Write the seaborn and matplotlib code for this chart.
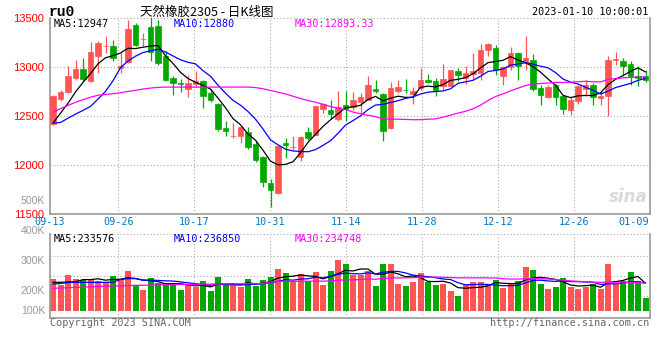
import numpy as np
import pandas as pd
import matplotlib
matplotlib.use("Agg")
import matplotlib.pyplot as plt
import matplotlib.transforms as mtransforms
import seaborn as sns

# ---------------- data ----------------
symbol = "ru0"
title = "天然橡胶2305 - 日K线图"
timestamp = "2023-01-10 10:00:01"
date_labels = ["09-13", "09-26", "10-17", "10-31", "11-14", "11-28", "12-12", "12-26", "01-09"]
price_ticks = [13500, 13000, 12500, 12000, 11500]
vol_labels = ["500K", "400K", "300K", "200K", "100K"]
vol_label_values = [500000, 400000, 300000, 200000, 133000]

opens = [12420, 12673, 12741, 12887, 12980, 12853, 13109, 13215, 13218, 12990,
         13048, 13433, 13283, 13409, 13416, 13109, 12887, 12832, 12775, 12829,
         12853, 12734, 12625, 12379, 12298, 12301, 12332, 12216, 12086, 11820,
         11711, 12229, 12185, 12086, 12338, 12308, 12574, 12564, 12468, 12615,
         12591, 12645, 12666, 12778, 12727, 12376, 12758, 12763, 12724, 12785,
         12864, 12853, 12802, 12809, 12962, 12887, 12932, 12939, 13170, 13194,
         12911, 13000, 13143, 13051, 13075, 12785, 12693, 12819, 12707, 12564,
         12649, 12778, 12819, 12683, 12707, 13068, 13058, 13034, 12911, 12905]
highs = [12715, 12768, 13014, 13075, 13092, 13252, 13263, 13314, 13280, 13143,
         13477, 13450, 13348, 13511, 13477, 13160, 12905, 12877, 12922, 12962,
         12870, 12775, 12632, 12451, 12427, 12393, 12386, 12240, 12092, 11854,
         12205, 12280, 12291, 12291, 12386, 12604, 12632, 12666, 12751, 12758,
         12741, 12734, 12905, 12864, 12734, 12843, 12870, 12877, 12795, 12990,
         12928, 12887, 13034, 12973, 12990, 13014, 13143, 13235, 13245, 13228,
         13014, 13201, 13150, 13314, 13136, 12819, 12819, 12829, 12717, 12693,
         12819, 12864, 12836, 12751, 13109, 13150, 13092, 13058, 13007, 12973]
lows = [12410, 12649, 12735, 12870, 12853, 12850, 12939, 13143, 13058, 12939,
        13041, 13211, 13211, 13058, 13024, 12853, 12717, 12741, 12693, 12795,
        12581, 12639, 12342, 12291, 12280, 12229, 12161, 12035, 11779, 11575,
        11705, 12076, 12154, 12045, 12257, 12305, 12530, 12468, 12454, 12444,
        12557, 12530, 12660, 12734, 12250, 12370, 12734, 12734, 12625, 12768,
        12840, 12700, 12768, 12805, 12853, 12829, 12877, 12870, 13116, 12922,
        12819, 12973, 12870, 12973, 12751, 12615, 12683, 12608, 12523, 12512,
        12625, 12700, 12608, 12615, 12502, 13024, 12911, 12819, 12802, 12843]
closes = [12707, 12741, 12911, 12980, 12877, 13150, 13245, 13218, 13092, 13010,
          13392, 13228, 13287, 13150, 13041, 12870, 12836, 12829, 12836, 12853,
          12700, 12659, 12366, 12342, 12301, 12383, 12188, 12052, 11830, 11745,
          12195, 12209, 12188, 12284, 12280, 12598, 12621, 12523, 12594, 12574,
          12659, 12697, 12819, 12751, 12352, 12789, 12799, 12761, 12751, 12864,
          12847, 12761, 12881, 12966, 12915, 12939, 12956, 13177, 13235, 12973,
          13000, 13143, 13007, 13092, 12778, 12717, 12795, 12693, 12574, 12659,
          12809, 12812, 12693, 12707, 13075, 13082, 13007, 12905, 12887, 12864]
volumes = [239, 219, 252, 239, 236, 239, 232, 230, 250, 239,
           266, 219, 202, 241, 225, 225, 225, 202, 219, 211,
           232, 199, 247, 219, 221, 213, 239, 217, 236, 247,
           272, 259, 228, 256, 232, 263, 219, 267, 302, 289,
           252, 252, 266, 216, 289, 289, 222, 216, 229, 259,
           229, 219, 222, 199, 182, 219, 229, 229, 222, 236,
           209, 222, 232, 279, 269, 222, 206, 212, 242, 212,
           206, 212, 222, 206, 289, 222, 232, 262, 232, 176]
volumes = [v * 1000 for v in volumes]

# moving-average values before enough history is visible
ma5_head = [12427, 12529, 12630, 12745]
ma10_head = [12427, 12434, 12478, 12519, 12557, 12598, 12673, 12751, 12860]
ma30_head = [12540, 12575, 12608, 12640, 12666, 12692, 12712, 12720, 12727, 12738,
             12750, 12762, 12775, 12785, 12792, 12795, 12795, 12795, 12795, 12795,
             12795, 12795, 12795, 12795, 12795, 12795, 12795, 12790, 12778]
vma5_head = [228000, 228000, 229000, 230000]
vma10_head = [222000, 224000, 227000, 228000, 228000, 228000, 228000, 228000, 228000]
vma30_head = [208000, 209000, 210000, 211000, 212000, 213000, 214000, 215000, 216000, 216000,
              217000, 218000, 218000, 219000, 219000, 220000, 220000, 221000, 221000, 221000,
              222000, 222000, 222000, 223000, 223000, 223000, 224000, 224000, 224000]
legend_price = ["MA5:12947", "MA10:12880", "MA30:12893.33"]
legend_vol = ["MA5:233576", "MA10:236850", "MA30:234748"]


def moving_average(values, n, head):
    s = pd.Series(values, dtype=float).rolling(n).mean().to_numpy()
    s[:n - 1] = head
    return s


n = len(closes)
x = np.arange(n)
o = np.array(opens, float)
c = np.array(closes, float)
h = np.array(highs, float)
l = np.array(lows, float)
v = np.array(volumes, float)
up = c >= o

RED = "#ff5454"
GREEN = "#00a800"
cols = np.where(up, RED, GREEN)
line_cols = ["black", "#0000ff", "#ff00ff"]

ma = [moving_average(c, 5, ma5_head), moving_average(c, 10, ma10_head), moving_average(c, 30, ma30_head)]
vma = [moving_average(v, 5, vma5_head), moving_average(v, 10, vma10_head), moving_average(v, 30, vma30_head)]

# ---------------- style ----------------
sns.set_theme(style="white")
plt.rcParams["font.family"] = ["DejaVu Sans Mono", "Noto Sans CJK SC"]

W, H = 660, 360
fig = plt.figure(figsize=(W / 100, H / 100), dpi=100)
fig.patch.set_facecolor("white")


def fx(px):
    return px / W


def fy(py):
    return 1 - py / H


ax = fig.add_axes([fx(50), fy(214), fx(600), (214 - 18) / H])
axv = fig.add_axes([fx(50), fy(318), fx(600), (318 - 234) / H])

xlim = (-0.4, 79.6)
grid_x = [8.71, 18.84, 28.97, 39.11, 49.24, 59.37, 69.51]
label_x = [-0.4] + grid_x + [77.45]

GRID = "#aaaaaa"
BORDER = "#999999"

for a in (ax, axv):
    a.set_facecolor("white")
    a.set_xlim(*xlim)
    for xv in grid_x:
        a.axvline(xv, color=GRID, lw=0.8, ls=(0, (1, 2)), zorder=0)
    for s in ("left", "right", "bottom"):
        a.spines[s].set_color(BORDER)
        a.spines[s].set_linewidth(1.2)
    a.spines["top"].set_visible(False)
    a.set_xticks([])
    a.tick_params(axis="both", length=0)

# ---------------- price panel ----------------
ax.set_ylim(11500, 13500)
for yv in [13000, 12500, 12000]:
    ax.axhline(yv, color=GRID, lw=0.8, ls=(0, (1, 2)), zorder=0)
ax.axhline(13500, color=GRID, lw=0.8, ls=(0, (1, 2)), zorder=0, clip_on=False)

ax.vlines(x, l, h, colors=cols, lw=0.9, zorder=2)
ax.bar(x, np.maximum(np.abs(c - o), 1), bottom=np.minimum(o, c), width=0.74,
       color=cols, edgecolor=cols, lw=0.5, zorder=3)

for m, col in zip(ma, line_cols):
    sns.lineplot(x=x, y=m, ax=ax, color=col, lw=0.9, zorder=4, legend=False)

ax.set_yticks(price_ticks)
ax.set_yticklabels([str(t) for t in price_ticks], color="#ff0000",
                   fontsize=8, family="Liberation Sans")
ax.tick_params(axis="y", pad=4)
ax.set_xlabel("")
ax.set_ylabel("")

# ---------------- volume panel ----------------
axv.set_ylim(109000, 389000)
for yv in [316700, 250000, 183300]:
    axv.axhline(yv, color=GRID, lw=0.8, ls=(0, (1, 2)), zorder=0)
axv.axhline(389000, color=GRID, lw=0.8, ls=(0, (1, 2)), zorder=0, clip_on=False)

base = 132000
axv.bar(x, v - base, bottom=base, width=0.8, color=cols, lw=0, zorder=2)
for m, col in zip(vma, line_cols):
    sns.lineplot(x=x, y=m, ax=axv, color=col, lw=0.9, zorder=4, legend=False)
axv.set_yticks([])
axv.set_xlabel("")
axv.set_ylabel("")

vtrans = mtransforms.blended_transform_factory(ax.transAxes, axv.transData)
for lab, val in zip(vol_labels, vol_label_values):
    axv.text(-0.008, val, lab, transform=vtrans, ha="right", va="center",
             color="#999999", fontsize=7.6, family="Liberation Sans", clip_on=False)

# ---------------- texts ----------------
dtrans = mtransforms.blended_transform_factory(ax.transData, fig.transFigure)
for xv, lab in zip(label_x, date_labels):
    ax.text(xv, fy(222), lab, transform=dtrans, ha="center", va="center",
            color="#0078c8", fontsize=7.3, clip_on=False)

fig.text(fx(49), fy(12), symbol, ha="left", va="center", fontsize=10.5,
         fontweight="bold", family="Liberation Mono", color="black")
fig.text(fx(140), fy(12), title, ha="left", va="center", fontsize=9,
         family=["Noto Sans CJK SC", "DejaVu Sans"], color="black")
fig.text(fx(648), fy(12), timestamp, ha="right", va="center", fontsize=7.3, color="black")

leg_x = [54, 174, 295]
for px, t, col in zip(leg_x, legend_price, line_cols):
    fig.text(fx(px), fy(23.7), t, ha="left", va="center", fontsize=7.3, color=col)
for px, t, col in zip(leg_x, legend_vol, line_cols):
    fig.text(fx(px), fy(238.5), t, ha="left", va="center", fontsize=7.3, color=col)

fig.text(fx(50), fy(323.5), "Copyright 2023 SINA.COM", ha="left", va="center",
         fontsize=7.3, color="#666666")
fig.text(fx(649), fy(323.5), "http://finance.sina.com.cn", ha="right", va="center",
         fontsize=7.3, color="#666666")
fig.text(fx(648), fy(197), "sina", ha="right", va="center", fontsize=12,
         fontweight="bold", style="italic", family="DejaVu Sans", color="#d9d9d9")

fig.savefig("out.png", dpi=100, facecolor="white")
